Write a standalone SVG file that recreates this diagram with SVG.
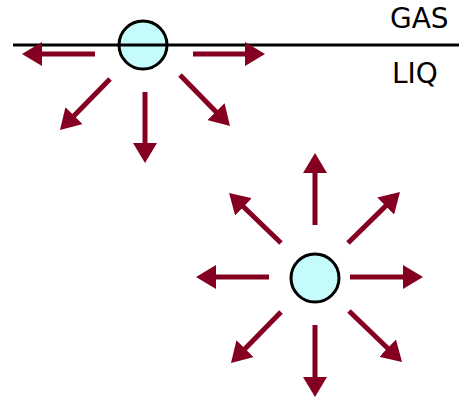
<svg xmlns="http://www.w3.org/2000/svg" width="459" height="401" viewBox="0 0 459 401">
<style>
.arr{stroke:#850020;stroke-width:5;fill:none;marker-end:url(#ah)}
.bub{fill:#c6fbfb;stroke:#000;stroke-width:3}
.lbl{font-family:"DejaVu Sans",Verdana,sans-serif;font-size:28px;fill:#000}
</style>
<defs>
<marker id="ah" viewBox="0 0 20 24" refX="8" refY="12" markerWidth="20" markerHeight="24" orient="auto" markerUnits="userSpaceOnUse">
<path d="M0,0 L20,12 L0,24 z" fill="#850020"/>
</marker>
</defs>
<rect width="459" height="401" fill="#fff"/>
<g id="surface-bubble">
<circle class="bub" cx="143" cy="45" r="24"/>
</g>
<g id="interface">
<line x1="13" y1="45" x2="459" y2="45" stroke="#000" stroke-width="3"/>
</g>
<g id="label-gas"><text class="lbl" x="390" y="28">GAS</text></g>
<g id="label-liq"><text class="lbl" x="392" y="83">LIQ</text></g>
<g id="bulk-bubble">
<circle class="bub" cx="315" cy="278" r="24"/>
</g>
<g id="connectors">
<line class="arr" x1="95" y1="54" x2="34" y2="54"/>
<line class="arr" x1="193" y1="54" x2="253" y2="54"/>
<line class="arr" x1="110" y1="79" x2="68.4" y2="121.4"/>
<line class="arr" x1="145" y1="92" x2="145" y2="151"/>
<line class="arr" x1="180" y1="75" x2="221.6" y2="117.4"/>
<line class="arr" x1="315" y1="225" x2="315" y2="165"/>
<line class="arr" x1="315" y1="325" x2="315" y2="385"/>
<line class="arr" x1="269" y1="277" x2="208" y2="277"/>
<line class="arr" x1="350" y1="277" x2="411" y2="277"/>
<line class="arr" x1="281" y1="243" x2="237.7" y2="201.3"/>
<line class="arr" x1="348" y1="243" x2="391.4" y2="200.4"/>
<line class="arr" x1="281" y1="312" x2="239.4" y2="354.4"/>
<line class="arr" x1="349" y1="311" x2="393.4" y2="353.7"/>
</g>
</svg>
